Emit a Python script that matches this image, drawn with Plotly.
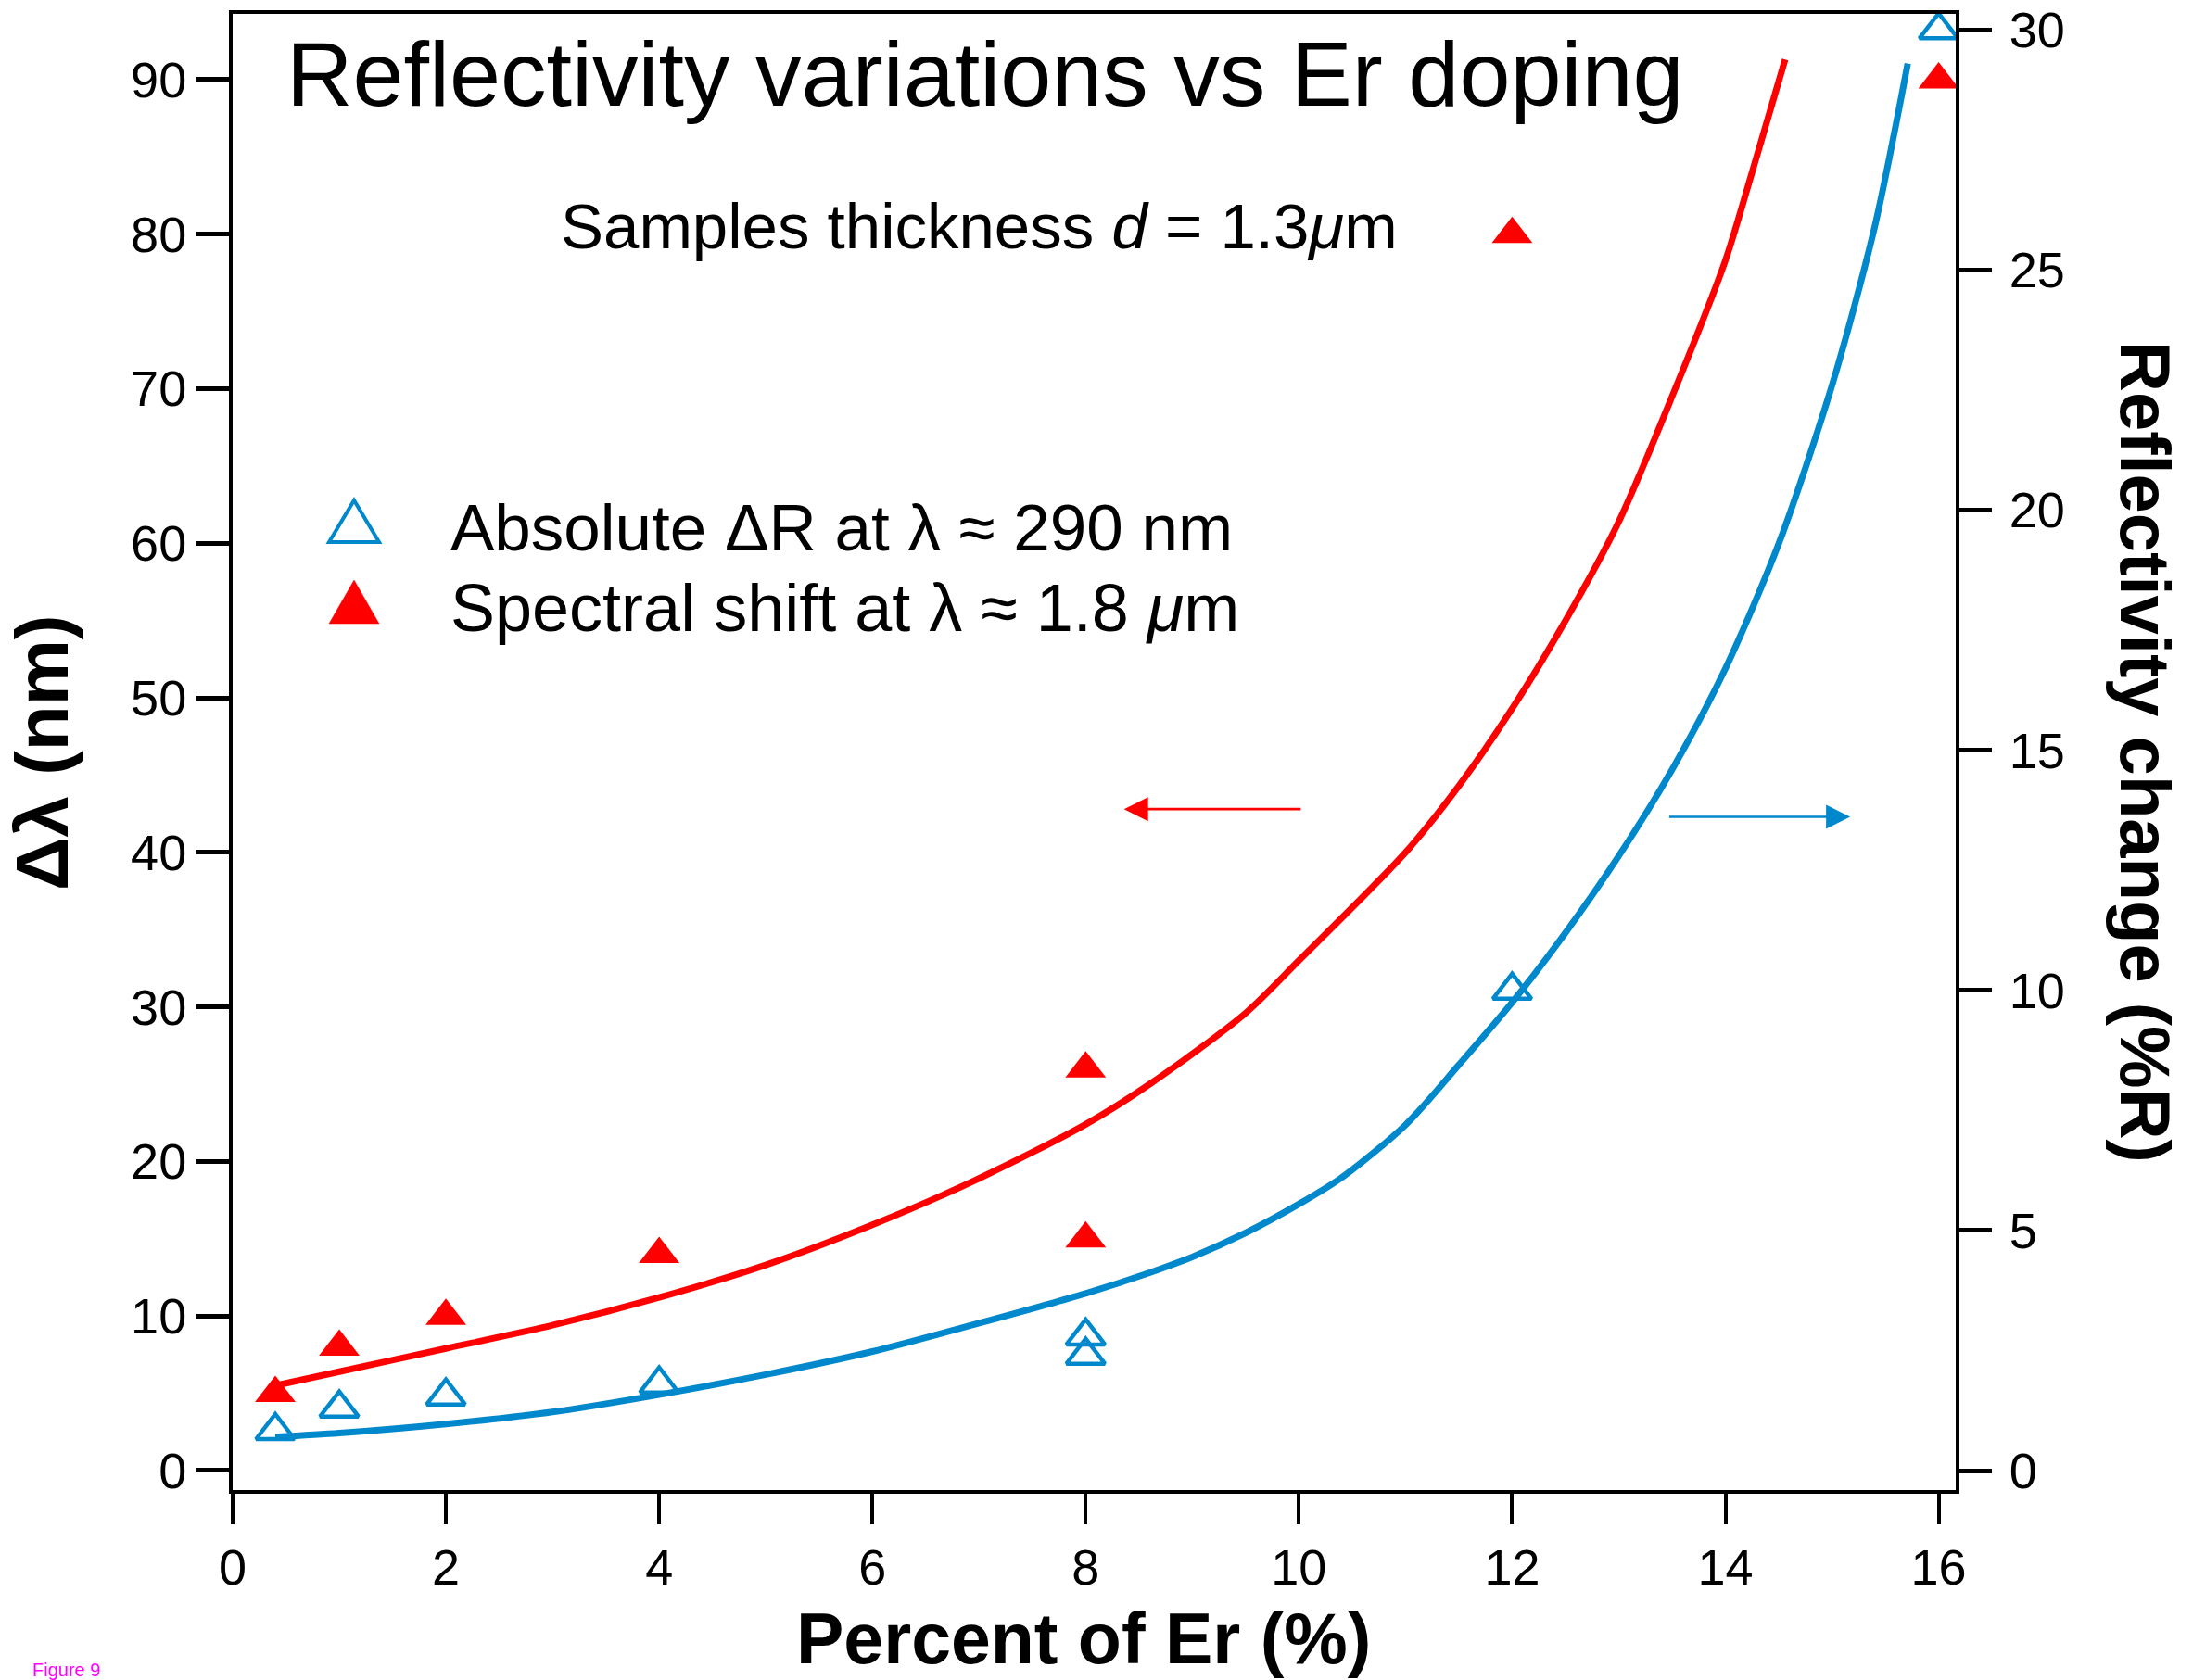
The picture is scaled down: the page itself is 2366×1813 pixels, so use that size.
import plotly.graph_objects as go

# ---------------- data ----------------
er_percent = [0.4, 1, 2, 4, 8, 8, 12, 16]
spectral_shift_nm = [5.0, 8.0, 10.0, 14.0, 26.0, 15.0, 80.0, 90.0]        # left axis
abs_delta_R = [0.83, 1.3, 1.55, 1.8, 2.8, 2.4, 10.0, 30.0]               # right axis

fit_red_x = [0.4, 1.0, 2.0, 3.0, 4.0, 5.0, 6.0, 7.0, 8.0, 8.6, 9.5, 10.0, 11.0,
             11.5, 12.0, 12.5, 13.0, 13.5, 14.0, 14.25, 14.56]
fit_red_y = [5.5, 6.4, 7.9, 9.4, 11.2, 13.3, 15.9, 18.9, 22.4, 25.0, 29.6, 33.0, 40.0,
             44.3, 49.3, 55.0, 61.4, 69.5, 78.3, 84.0, 91.3]

fit_blue_x = [0.4, 1.0, 2.0, 3.0, 4.0, 5.0, 6.0, 7.0, 8.0, 8.6, 9.0, 9.5, 10.0, 10.4,
              11.0, 11.5, 12.0, 12.5, 13.0, 13.5, 14.0, 14.5, 15.0, 15.4, 15.71]
fit_blue_y = [0.7, 0.78, 0.97, 1.22, 1.58, 2.0, 2.48, 3.07, 3.69, 4.12, 4.45, 4.95, 5.55,
              6.1, 7.2, 8.45, 9.75, 11.2, 12.8, 14.6, 16.7, 19.3, 22.6, 25.9, 29.3]

x_ticks = [0, 2, 4, 6, 8, 10, 12, 14, 16]
left_ticks = [0, 10, 20, 30, 40, 50, 60, 70, 80, 90]
right_ticks = [0, 5, 10, 15, 20, 25, 30]

# ---------------- style ----------------
RED = "#FF0000"
BLUE = "#0088CC"
W, H = 2366, 1813
L, R, T, B = 251, 2110, 15, 1608
FONT = "Liberation Sans"


def px(xp):
    return (xp - L) / (R - L)


def py(yp):
    return (B - yp) / (B - T)


fig = go.Figure()

fig.add_trace(go.Scatter(x=fit_red_x, y=fit_red_y, mode="lines", yaxis="y",
                         line=dict(color=RED, width=7, shape="spline", smoothing=0.8),
                         showlegend=False, hoverinfo="skip"))
fig.add_trace(go.Scatter(x=fit_blue_x, y=fit_blue_y, mode="lines", yaxis="y2",
                         line=dict(color=BLUE, width=7, shape="spline", smoothing=0.8),
                         showlegend=False, hoverinfo="skip"))
fig.add_trace(go.Scatter(x=er_percent, y=spectral_shift_nm, mode="markers", yaxis="y",
                         marker=dict(symbol="triangle-up", size=38, color=RED),
                         cliponaxis=False, name="Spectral shift", showlegend=False))
fig.add_trace(go.Scatter(x=er_percent, y=abs_delta_R, mode="markers", yaxis="y2",
                         marker=dict(symbol="triangle-up-open", size=36, color=BLUE,
                                     line=dict(width=4.5, color=BLUE)),
                         cliponaxis=False, name="Absolute ΔR", showlegend=False))

axis_common = dict(showgrid=False, zeroline=False, showline=True, linecolor="black",
                   linewidth=4, ticks="outside", tickcolor="black", automargin=False,
                   tickfont=dict(family=FONT, size=54, color="black"))

fig.update_layout(
    width=W, height=H,
    margin=dict(l=L, r=W - R, t=T, b=H - B, pad=0, autoexpand=False),
    paper_bgcolor="white", plot_bgcolor="white",
    xaxis=dict(range=[0, 16.16], tickvals=x_ticks, ticklen=33, tickwidth=4,
               mirror=True, **axis_common),
    yaxis=dict(range=[-1.26, 94.25], tickvals=left_ticks, ticklen=35, tickwidth=5,
               **axis_common),
    yaxis2=dict(range=[-0.405, 30.335], tickvals=right_ticks, ticklen=35, tickwidth=5,
                overlaying="y", side="right", ticklabelstandoff=8, **axis_common),
)

ann = []
# title
ann.append(dict(text="Reflectivity variations vs Er doping", xref="paper", yref="paper",
                x=px(307), y=py(80), xanchor="left", yanchor="middle", showarrow=False,
                font=dict(family=FONT, size=99, color="black")))
ann.append(dict(text="Samples thickness <i>d</i> = 1.3<i>μ</i>m", xref="paper", yref="paper",
                x=px(603), y=py(245), xanchor="left", yanchor="middle", showarrow=False,
                font=dict(family=FONT, size=69, color="black")))
# legend texts
ann.append(dict(text="Absolute ΔR at λ ≈ 290 nm", xref="paper", yref="paper",
                x=px(484), y=py(569), xanchor="left", yanchor="middle", showarrow=False,
                font=dict(family=FONT, size=71, color="black")))
ann.append(dict(text="Spectral shift at λ ≈ 1.8 <i>μ</i>m", xref="paper", yref="paper",
                x=px(484), y=py(656), xanchor="left", yanchor="middle", showarrow=False,
                font=dict(family=FONT, size=72, color="black")))
# axis titles
ann.append(dict(text="<b>Percent of Er (%)</b>", xref="paper", yref="paper",
                x=px(1169), y=py(1768), xanchor="center", yanchor="middle", showarrow=False,
                font=dict(family=FONT, size=77, color="black")))
ann.append(dict(text="<b>Δλ (nm)</b>", xref="paper", yref="paper", textangle=-90,
                x=px(45), y=py(812), xanchor="center", yanchor="middle", showarrow=False,
                font=dict(family=FONT, size=80, color="black")))
ann.append(dict(text="<b>Reflectivity change (%R)</b>", xref="paper", yref="paper", textangle=90,
                x=px(2315), y=py(811), xanchor="center", yanchor="middle", showarrow=False,
                font=dict(family=FONT, size=76, color="black")))
# figure label
ann.append(dict(text="Figure 9", xref="paper", yref="paper",
                x=px(33), y=py(1789), xanchor="left", yanchor="top", showarrow=False,
                font=dict(family=FONT, size=20, color="#FF00FF")))
# axis-indicating arrows
ann.append(dict(x=8.36, y=42.8, ax=10.03, ay=42.8, xref="x", yref="y", axref="x", ayref="y",
                text="", showarrow=True, arrowhead=2, arrowsize=2.0, arrowwidth=2.6,
                arrowcolor=RED, standoff=0))
ann.append(dict(x=15.17, y=42.3, ax=13.46, ay=42.3, xref="x", yref="y", axref="x", ayref="y",
                text="", showarrow=True, arrowhead=2, arrowsize=2.0, arrowwidth=2.6,
                arrowcolor=BLUE, standoff=0))
fig.update_layout(annotations=ann)

# legend keys (drawn as triangles in paper coordinates)
def tri(cx, top, bottom, half):
    return (f"M {px(cx - half)},{py(bottom)} L {px(cx + half)},{py(bottom)} "
            f"L {px(cx)},{py(top)} Z")

fig.add_shape(type="path", xref="paper", yref="paper", path=tri(382, 540, 585, 27),
              line=dict(color=BLUE, width=4), fillcolor="rgba(0,0,0,0)")
fig.add_shape(type="path", xref="paper", yref="paper", path=tri(382, 626, 673, 27),
              line=dict(color=RED, width=0.5), fillcolor=RED)

fig.write_html("out.html", config={"displayModeBar": False},
               post_script="document.body.style.margin='0';document.body.style.overflow='hidden';")
